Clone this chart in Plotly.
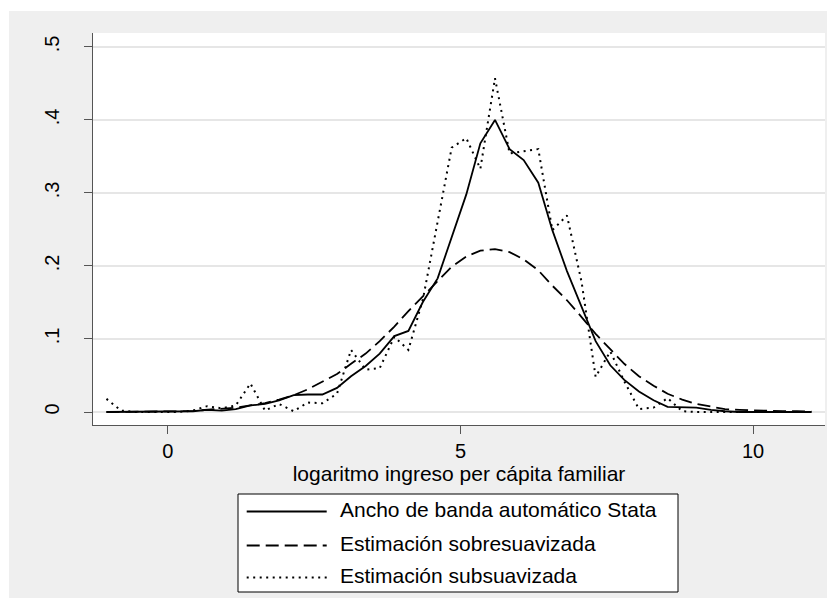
import plotly.graph_objects as go

# grid of evaluation points (log per-capita family income)
x_vals = [-1.05, -0.80, -0.56, -0.31, -0.07, 0.18, 0.43, 0.67, 0.92, 1.16,
          1.41, 1.66, 1.90, 2.15, 2.39, 2.64, 2.89, 3.13, 3.38, 3.62,
          3.87, 4.11, 4.36, 4.61, 4.85, 5.10, 5.34, 5.59, 5.84, 6.08,
          6.33, 6.57, 6.82, 7.07, 7.31, 7.56, 7.80, 8.05, 8.30, 8.54,
          8.79, 9.03, 9.28, 9.52, 9.77, 10.02, 10.26, 10.51, 10.75, 11.00]

dens_auto = [0.000, 0.000, 0.000, 0.000, 0.000, 0.001, 0.001, 0.003, 0.002, 0.004,
             0.009, 0.011, 0.016, 0.023, 0.024, 0.024, 0.033, 0.049, 0.063, 0.080,
             0.104, 0.111, 0.151, 0.183, 0.240, 0.298, 0.368, 0.400, 0.360, 0.345,
             0.314, 0.249, 0.193, 0.144, 0.097, 0.064, 0.044, 0.028, 0.016, 0.007,
             0.006, 0.006, 0.003, 0.001, 0.000, 0.000, 0.000, 0.000, 0.000, 0.000]

dens_over = [0.000, 0.000, 0.000, 0.000, 0.000, 0.001, 0.0015, 0.003, 0.004, 0.006,
             0.009, 0.012, 0.017, 0.023, 0.031, 0.041, 0.052, 0.066, 0.080, 0.097,
             0.117, 0.138, 0.159, 0.180, 0.199, 0.213, 0.221, 0.223, 0.219, 0.209,
             0.194, 0.173, 0.153, 0.130, 0.107, 0.086, 0.066, 0.049, 0.036, 0.025,
             0.017, 0.011, 0.007, 0.004, 0.003, 0.002, 0.0015, 0.001, 0.001, 0.0005]

dens_under = [0.018, 0.002, 0.000, 0.000, 0.000, 0.000, 0.002, 0.008, 0.005, 0.009,
              0.039, 0.002, 0.011, 0.001, 0.013, 0.012, 0.025, 0.085, 0.058, 0.060,
              0.103, 0.085, 0.155, 0.262, 0.362, 0.375, 0.333, 0.457, 0.354, 0.357,
              0.360, 0.249, 0.269, 0.178, 0.048, 0.083, 0.042, 0.004, 0.006, 0.019,
              0.001, 0.000, 0.000, 0.000, 0.000, 0.000, 0.000, 0.000, 0.000, 0.000]

series_names = ["Ancho de banda automático Stata",
                "Estimación sobresuavizada",
                "Estimación subsuavizada"]
x_ticks = [0, 5, 10]
y_ticks = [0, 0.1, 0.2, 0.3, 0.4, 0.5]
y_tick_text = ["0", ".1", ".2", ".3", ".4", ".5"]
x_title = "logaritmo ingreso per cápita familiar"

FONT = "Liberation Sans, Arial, sans-serif"
DASH_SOLID = "solid"
DASH_LONG = "13px,6px"
DASH_DOT = "2px,4.5px"

fig = go.Figure()
styles = [DASH_SOLID, DASH_LONG, DASH_DOT]
widths = [1.8, 1.8, 2.0]
for name, ys, dash, w in zip(series_names, [dens_auto, dens_over, dens_under], styles, widths):
    fig.add_trace(go.Scatter(x=x_vals, y=ys, mode="lines", name=name,
                             line=dict(color="black", width=w, dash=dash),
                             showlegend=False))

# The page body adds an 8px offset; plot area sits at page px (93..825, 33..425)
OFF = 8
W, H = 835, 598
L, T = 93 - OFF, 33 - OFF
R = W - (825 - OFF)
B = H - (425 - OFF)
PW, PH = W - L - R, H - T - B
def px(xp):  # page x -> paper fraction
    return (xp - OFF - L) / PW
def py(yp):  # page y -> paper fraction
    return (H - B - (yp - OFF)) / PH

shapes = [
    # thin white strips at top and left of the figure
    dict(type="rect", xref="paper", yref="paper", x0=px(-20), x1=px(9), y0=py(700), y1=py(-20),
         fillcolor="white", line=dict(width=0), layer="below"),
    dict(type="rect", xref="paper", yref="paper", x0=px(-20), x1=px(900), y0=py(11), y1=py(-20),
         fillcolor="white", line=dict(width=0), layer="below"),
    # legend box
    dict(type="rect", xref="paper", yref="paper", x0=px(238), x1=px(678), y0=py(592), y1=py(494),
         fillcolor="white", line=dict(color="black", width=1)),
]
annotations = []
row_line_y = [511.5, 545.5, 577.5]
row_text_y = [509.5, 543.5, 575.5]
for name, dash, w, ly, ty in zip(series_names, styles, widths, row_line_y, row_text_y):
    shapes.append(dict(type="line", xref="paper", yref="paper", x0=px(246.7), x1=px(326.7),
                       y0=py(ly), y1=py(ly), line=dict(color="black", width=w, dash=dash)))
    annotations.append(dict(text=name, xref="paper", yref="paper", x=px(338), y=py(ty),
                            xanchor="left", yanchor="middle", showarrow=False,
                            font=dict(family=FONT, size=21, color="black")))

fig.update_layout(
    template="none",
    width=W, height=H,
    margin=dict(l=L, r=R, t=T, b=B, pad=0),
    paper_bgcolor="#efefef",
    plot_bgcolor="white",
    font=dict(family=FONT, color="black"),
    showlegend=False,
    shapes=shapes,
    annotations=annotations,
    xaxis=dict(range=[-1.28, 11.23], tickvals=x_ticks, ticks="outside", ticklen=8,
               tickcolor="#555", tickwidth=1.2, showgrid=False, zeroline=False,
               showline=True, linecolor="#555", linewidth=1.2, automargin=False,
               tickfont=dict(family=FONT, size=20, color="black"),
               title=dict(text=x_title, font=dict(family=FONT, size=21, color="black"), standoff=5)),
    yaxis=dict(range=[-0.0178, 0.519], tickvals=y_ticks, ticktext=y_tick_text,
               ticks="outside", ticklen=8, tickcolor="#555", tickwidth=1.2,
               tickangle=-90, ticklabelstandoff=17, automargin=False,
               showgrid=True, gridcolor="#e6e6e6", gridwidth=1.5, zeroline=False,
               showline=True, linecolor="#555", linewidth=1.2,
               tickfont=dict(family=FONT, size=20, color="black")),
)

fig.write_html("out.html")
